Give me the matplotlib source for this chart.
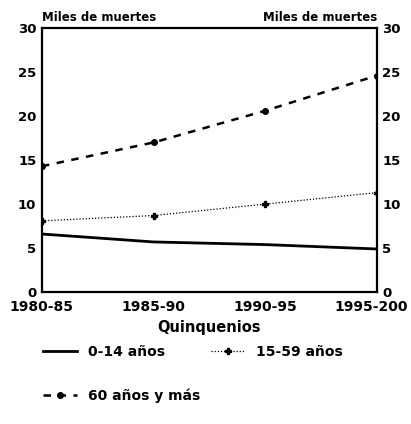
import matplotlib.pyplot as plt
import matplotlib.transforms as mtransforms
import numpy as np

# Miles de muertes por quinquenio y grupo de edad
periods = ['1980-85', '1985-90', '1990-95', '1995-200']
age_0_14 = [6.6, 5.7, 5.4, 4.9]
age_15_59 = [8.1, 8.7, 10.0, 11.3]
age_60_plus = [14.3, 17.0, 20.6, 24.6]
y_ticks = [0, 5, 10, 15, 20, 25, 30]

plt.rcParams['font.family'] = ['DejaVu Sans']
plt.rcParams['font.weight'] = 'bold'

fig = plt.figure(figsize=(4.11, 4.24), dpi=100)
ax = fig.add_axes([0.102, 0.311, 0.815, 0.623])

x = np.arange(len(periods))
l1, = ax.plot(x, age_0_14, color='black', lw=2.0, label='0-14 años')
l2, = ax.plot(x, age_15_59, color='black', lw=0.9, ls=(0, (1, 1.5)),
              marker='P', ms=5, label='15-59 años')
l3, = ax.plot(x, age_60_plus, color='black', lw=1.8, ls=(0, (3, 3)),
              marker='o', ms=4, label='60 años y más')

ax.set_xlim(0, 3)
ax.set_ylim(0, 30)
ax.set_xticks(x)
ax.set_xticklabels(periods, fontsize=10, fontweight='bold')
ax.set_yticks(y_ticks)
ax.set_yticklabels([str(v) for v in y_ticks], fontsize=9.5, fontweight='bold')
ax.tick_params(axis='x', length=0, pad=6)
ax.tick_params(axis='y', length=0, pad=4, labelright=True, right=False)
for sp in ax.spines.values():
    sp.set_linewidth(1.6)

# nudge the last period label left so it stays inside the figure
last = ax.get_xticklabels()[-1]
last.set_transform(last.get_transform() +
                   mtransforms.ScaledTranslation(-6 / 100, 0, fig.dpi_scale_trans))

ax.set_xlabel('Quinquenios', fontsize=10.5, fontweight='bold', labelpad=4)
ax.text(0, 1.015, 'Miles de muertes', transform=ax.transAxes, fontsize=8.5,
        fontweight='bold', ha='left', va='bottom')
ax.text(1, 1.015, 'Miles de muertes', transform=ax.transAxes, fontsize=8.5,
        fontweight='bold', ha='right', va='bottom')

fig.legend(handles=[l1, l3, l2], loc='lower left', bbox_to_anchor=(0.075, 0.02),
           ncol=2, frameon=False, fontsize=10, handlelength=2.4,
           columnspacing=0.8, labelspacing=2.1)

fig.savefig('out.png', dpi=100)
